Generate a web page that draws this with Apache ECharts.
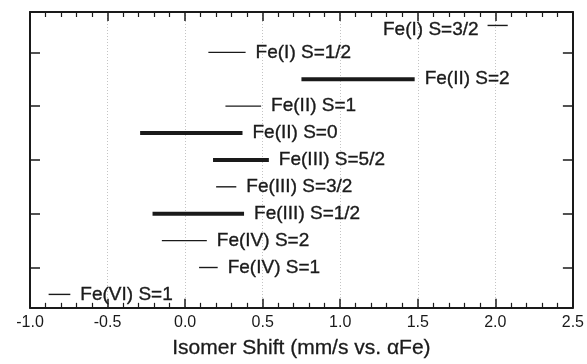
<!DOCTYPE html>
<html>
<head>
<meta charset="utf-8">
<script src="https://cdn.jsdelivr.net/npm/echarts@6/dist/echarts.min.js"></script>
<style>
  html, body { margin: 0; padding: 0; background: #fff; }
  #chart { width: 587px; height: 364px; }
</style>
</head>
<body>
<div id="chart"></div>
<script>
// Spin/oxidation states, listed bottom to top
var states = ['Fe(VI) S=1', 'Fe(IV) S=1', 'Fe(IV) S=2', 'Fe(III) S=1/2', 'Fe(III) S=3/2',
              'Fe(III) S=5/2', 'Fe(II) S=0', 'Fe(II) S=1', 'Fe(II) S=2', 'Fe(I) S=1/2', 'Fe(I) S=3/2'];
// Isomer shift range (mm/s vs. alpha-Fe)
var shiftLow  = [-0.88, 0.09, -0.15, -0.21, 0.20, 0.18, -0.29, 0.26, 0.75, 0.15, 1.95];
var shiftHigh = [-0.74, 0.21,  0.14,  0.38, 0.33, 0.54,  0.37, 0.49, 1.48, 0.39, 2.08];
// Heavier bars mark the more common states
var heavy = [false, false, false, true, false, true, true, false, true, false, false];
// X axis tick labels
var xTicks = ['-1.0', '-0.5', '0.0', '0.5', '1.0', '1.5', '2.0', '2.5'];

var data = states.map(function (s, i) {
  return [shiftLow[i], shiftHigh[i], i + 0.5, heavy[i] ? 1 : 0, i];
});

var FONT = '"Liberation Sans", Arial, Helvetica, sans-serif';
var INK = '#1a1a1a';

var chart = echarts.init(document.getElementById('chart'), null, { renderer: 'canvas' });

function renderRange(params, api) {
  var lo = api.coord([api.value(0), api.value(2)]);
  var hi = api.coord([api.value(1), api.value(2)]);
  var isHeavy = api.value(3) === 1;
  var idx = api.value(4);
  var lastRow = idx === states.length - 1;
  return {
    type: 'group',
    children: [
      {
        type: 'line',
        shape: { x1: lo[0], y1: lo[1], x2: hi[0], y2: hi[1] },
        style: { stroke: INK, lineWidth: isHeavy ? 4 : 1.4, lineCap: 'butt' }
      },
      {
        type: 'text',
        x: lastRow ? lo[0] - 9 : hi[0] + 10,
        y: lastRow ? lo[1] + 4 : hi[1],
        style: {
          text: states[idx],
          fill: INK,
          stroke: INK,
          lineWidth: 0.35,
          font: '19px ' + FONT,
          textAlign: lastRow ? 'right' : 'left',
          textVerticalAlign: 'middle'
        }
      }
    ]
  };
}

var axisLineStyle = { color: INK, width: 2 };

chart.setOption({
  animation: false,
  backgroundColor: '#fff',
  grid: { left: 30, right: 14, top: 12, bottom: 53 },
  xAxis: [
    {
      type: 'value',
      min: -1, max: 2.5, interval: 0.5,
      position: 'bottom',
      name: 'Isomer Shift (mm/s vs. \u03b1Fe)',
      nameLocation: 'middle',
      nameGap: 30,
      nameTextStyle: { fontFamily: FONT, fontSize: 21, color: INK, textBorderColor: INK, textBorderWidth: 0.3 },
      axisLine: { show: true, onZero: false, lineStyle: axisLineStyle },
      axisTick: { show: true, inside: true, length: 9, lineStyle: { color: INK, width: 1.5 } },
      minorTick: { show: true, splitNumber: 5, length: 5, lineStyle: { color: INK, width: 1.2 } },
      axisLabel: {
        margin: 7, fontFamily: FONT, fontSize: 16, color: INK,
        formatter: function (v) {
          var i = Math.round((v + 1) / 0.5);
          return xTicks[i] !== undefined ? xTicks[i] : '';
        }
      },
      splitLine: { show: true, lineStyle: { color: '#c4c4c4', width: 1, type: [1, 2] } }
    },
    {
      type: 'value',
      min: -1, max: 2.5, interval: 0.5,
      position: 'top',
      axisLine: { show: true, onZero: false, lineStyle: axisLineStyle },
      axisTick: { show: true, inside: true, length: 9, lineStyle: { color: INK, width: 1.5 } },
      minorTick: { show: true, splitNumber: 5, length: 5, lineStyle: { color: INK, width: 1.2 } },
      axisLabel: { show: false },
      splitLine: { show: false }
    }
  ],
  yAxis: [
    {
      type: 'value',
      min: 0, max: 11,
      position: 'left',
      axisLine: { show: true, onZero: false, lineStyle: axisLineStyle },
      axisTick: { show: true, inside: true, length: 10, customValues: [1.5, 3.5, 5.5, 7.5, 9.5],
                  lineStyle: { color: INK, width: 1.5 } },
      axisLabel: { show: false },
      splitLine: { show: false }
    },
    {
      type: 'value',
      min: 0, max: 11,
      position: 'right',
      axisLine: { show: true, onZero: false, lineStyle: axisLineStyle },
      axisTick: { show: true, inside: true, length: 10, customValues: [1.5, 3.5, 5.5, 7.5, 9.5],
                  lineStyle: { color: INK, width: 1.5 } },
      axisLabel: { show: false },
      splitLine: { show: false }
    }
  ],
  series: [
    {
      type: 'custom',
      xAxisIndex: 0,
      yAxisIndex: 0,
      renderItem: renderRange,
      encode: { x: [0, 1], y: 2 },
      data: data,
      clip: false
    }
  ]
});
</script>
</body>
</html>
